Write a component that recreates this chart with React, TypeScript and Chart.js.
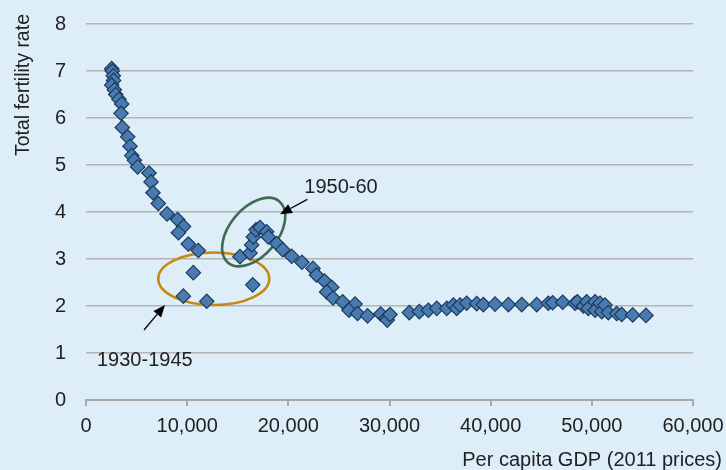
import { useEffect, useRef } from "react";
import { Chart, registerables } from "chart.js";

Chart.register(...registerables);

// Per capita GDP (2011 prices)
const gdp = [
  2540, 2600, 2700, 2720, 2540, 2800, 2940, 3260, 3530, 3460,
  3590, 4120, 4350, 4520, 4780, 5110, 6230, 6430, 6620, 7150,
  8010, 9050, 9640, 9140, 10110, 11100, 10610, 9620, 11930, 16480,
  15220, 16210, 16380, 16540, 16800, 17200, 17860, 18020, 18850, 19440,
  20330, 21350, 22440, 22780, 23580, 24290, 23790, 24420, 25370, 26590,
  26000, 26840, 27830, 29130, 29660, 29780, 30050, 31960, 32950, 33840,
  34670, 35660, 36310, 36640, 36970, 37630, 38620, 39280, 40430, 41750,
  43070, 44550, 45700, 46130, 47120, 48340, 48570, 49160, 49490, 49650,
  50320, 50320, 50810, 50980, 51300, 51630, 52460, 52950, 54040, 55350,
];

// Total fertility rate
const tfr = [
  7.05, 7.0, 6.9, 6.8, 6.7, 6.6, 6.5, 6.4, 6.3, 6.1,
  5.8, 5.6, 5.4, 5.2, 5.1, 4.96, 4.83, 4.64, 4.41, 4.18,
  3.96, 3.84, 3.69, 3.56, 3.32, 3.18, 2.71, 2.21, 2.1, 2.45,
  3.05, 3.13, 3.3, 3.47, 3.62, 3.67, 3.58, 3.47, 3.33, 3.2,
  3.06, 2.93, 2.8, 2.66, 2.53, 2.4, 2.3, 2.17, 2.09, 2.04,
  1.91, 1.84, 1.79, 1.83, 1.74, 1.7, 1.82, 1.86, 1.88, 1.91,
  1.95, 1.95, 2.02, 1.95, 2.02, 2.06, 2.05, 2.03, 2.04, 2.03,
  2.03, 2.03, 2.06, 2.07, 2.08, 2.06, 2.09, 2.0, 2.09, 1.95,
  2.09, 1.91, 2.06, 1.88, 2.02, 1.86, 1.84, 1.82, 1.81, 1.8,
];

const xTickValues = [0, 10000, 20000, 30000, 40000, 50000, 60000];
const yTickValues = [0, 1, 2, 3, 4, 5, 6, 7, 8];

const xTitle = "Per capita GDP (2011 prices)";
const yTitle = "Total fertility rate";

// Annotations (anchor points in data units)
const ellipseNotes = [
  { x: 12630, y: 2.58, rx: 55.5, ry: 26.3, rot: 0, color: "#c8880d" },
  { x: 16577, y: 3.574, rx: 40, ry: 24, rot: -50, color: "#3f6a55" },
];
const arrowNotes = [
  { x0: 5733, y0: 1.489, x1: 7809, y1: 2.021 },
  { x0: 21876, y0: 4.27, x1: 19177, y1: 3.951 },
];
const textNotes = [
  { text: "1930-1945", x: 1087, y: 0.723 },
  { text: "1950-60", x: 21580, y: 4.398 },
];

const FONT = "'Liberation Sans', Arial, Helvetica, sans-serif";
const TEXT_COLOR = "#222222";
const BG = "#ddeef8";

const bgPlugin = {
  id: "bg",
  beforeDraw(chart: any) {
    const { ctx, width, height } = chart;
    ctx.save();
    ctx.fillStyle = BG;
    ctx.fillRect(0, 0, width, height);
    ctx.restore();
  },
};

const notesPlugin = {
  id: "notes",
  beforeDatasetsDraw(chart: any) {
    const { ctx } = chart;
    const xs = chart.scales.x;
    const ys = chart.scales.y;
    ctx.save();
    for (const e of ellipseNotes) {
      ctx.beginPath();
      ctx.ellipse(
        xs.getPixelForValue(e.x),
        ys.getPixelForValue(e.y),
        e.rx,
        e.ry,
        (e.rot * Math.PI) / 180,
        0,
        Math.PI * 2
      );
      ctx.strokeStyle = e.color;
      ctx.lineWidth = 2.6;
      ctx.stroke();
    }
    for (const a of arrowNotes) {
      const px0 = xs.getPixelForValue(a.x0);
      const py0 = ys.getPixelForValue(a.y0);
      const px1 = xs.getPixelForValue(a.x1);
      const py1 = ys.getPixelForValue(a.y1);
      const ang = Math.atan2(py1 - py0, px1 - px0);
      const head = 12;
      const hw = 5;
      const bx = px1 - Math.cos(ang) * head;
      const by = py1 - Math.sin(ang) * head;
      ctx.beginPath();
      ctx.moveTo(px0, py0);
      ctx.lineTo(bx, by);
      ctx.strokeStyle = "#000";
      ctx.lineWidth = 1.3;
      ctx.stroke();
      ctx.beginPath();
      ctx.moveTo(px1, py1);
      ctx.lineTo(bx + Math.sin(ang) * hw, by - Math.cos(ang) * hw);
      ctx.lineTo(bx - Math.sin(ang) * hw, by + Math.cos(ang) * hw);
      ctx.closePath();
      ctx.fillStyle = "#000";
      ctx.fill();
    }
    ctx.font = `20px ${FONT}`;
    ctx.fillStyle = TEXT_COLOR;
    ctx.textAlign = "left";
    ctx.textBaseline = "alphabetic";
    for (const t of textNotes) {
      ctx.fillText(t.text, xs.getPixelForValue(t.x), ys.getPixelForValue(t.y));
    }
    ctx.restore();
  },
  afterDraw(chart: any) {
    const { ctx } = chart;
    ctx.save();
    ctx.fillStyle = TEXT_COLOR;
    ctx.font = `20px ${FONT}`;
    ctx.textAlign = "right";
    ctx.textBaseline = "alphabetic";
    ctx.fillText(xTitle, 722, 466);
    ctx.translate(28.5, 85);
    ctx.rotate(-Math.PI / 2);
    ctx.textAlign = "center";
    ctx.font = `19.5px ${FONT}`;
    ctx.fillText(yTitle, 0, 0);
    ctx.restore();
  },
};

export default function App() {
  const ref = useRef<HTMLCanvasElement | null>(null);

  useEffect(() => {
    document.body.style.margin = "0";
    if (!ref.current) return;
    const points = gdp.map((g, i) => ({ x: g, y: tfr[i] }));
    const chart = new Chart(ref.current, {
      type: "scatter",
      data: {
        datasets: [
          {
            data: points,
            pointStyle: "rectRot",
            pointRadius: 7.2,
            pointHoverRadius: 7.2,
            backgroundColor: "#4a7bb0",
            borderColor: "#1b3a5c",
            borderWidth: 1.2,
          },
        ],
      },
      options: {
        animation: false,
        responsive: false,
        events: [],
        layout: { padding: { top: 24, right: 33, bottom: 0, left: 0 } },
        plugins: {
          legend: { display: false },
          tooltip: { enabled: false },
          title: { display: false },
        },
        scales: {
          x: {
            type: "linear",
            min: 0,
            max: 60000,
            afterFit(scale: any) {
              scale.height = 70;
              scale.paddingLeft = 0;
              scale.paddingRight = 0;
              scale.paddingTop = 0;
              scale.paddingBottom = 0;
            },
            afterBuildTicks(scale: any) {
              scale.ticks = xTickValues.map((v) => ({ value: v }));
            },
            ticks: {
              font: { family: FONT, size: 20 },
              color: TEXT_COLOR,
              padding: 8,
              maxRotation: 0,
              autoSkip: false,
              callback: (v: any) => Number(v).toLocaleString("en-US"),
            },
            grid: {
              display: true,
              drawOnChartArea: false,
              drawTicks: true,
              tickLength: 6,
              color: "#a8a8a8",
              lineWidth: 2,
            },
            border: { display: true, color: "#a8a8a8", width: 2 },
          },
          y: {
            type: "linear",
            min: 0,
            max: 8,
            afterFit(scale: any) {
              scale.width = 86;
              scale.paddingLeft = 0;
              scale.paddingRight = 0;
              scale.paddingTop = 0;
              scale.paddingBottom = 0;
            },
            afterBuildTicks(scale: any) {
              scale.ticks = yTickValues.map((v) => ({ value: v }));
            },
            ticks: {
              font: { family: FONT, size: 20 },
              color: TEXT_COLOR,
              padding: 20,
              autoSkip: false,
            },
            grid: {
              display: true,
              drawTicks: false,
              color: "#b3b3b3",
              lineWidth: 1.5,
            },
            border: { display: false },
          },
        },
      },
      plugins: [bgPlugin, notesPlugin],
    });
    return () => chart.destroy();
  }, []);

  return (
    <div style={{ position: "absolute", left: 0, top: 0, width: 726, height: 470 }}>
      <canvas ref={ref} width={726} height={470} style={{ width: 726, height: 470, display: "block" }} />
    </div>
  );
}
